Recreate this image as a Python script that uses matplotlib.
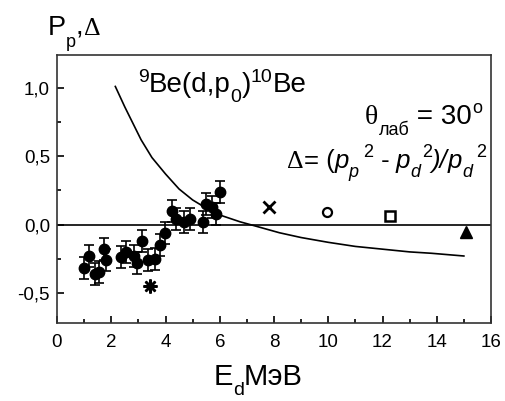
import matplotlib
matplotlib.use("Agg")
import matplotlib.pyplot as plt
from matplotlib.ticker import MultipleLocator, FuncFormatter

plt.rcParams['font.family'] = ['Liberation Sans', 'DejaVu Sans']

W, H = 506, 401
SANS = 'Liberation Sans'
SERIF = 'Liberation Serif'

# measured polarization points
ed = [1.0, 1.18, 1.40, 1.53, 1.73, 1.80, 2.35, 2.55, 2.84, 2.96, 3.12, 3.36,
      3.62, 3.80, 3.97, 4.24, 4.38, 4.69, 4.91, 5.39, 5.49, 5.71, 5.86, 6.01]
pp = [-0.32, -0.23, -0.36, -0.35, -0.18, -0.26, -0.24, -0.20, -0.23, -0.28, -0.12, -0.26,
      -0.25, -0.15, -0.06, 0.10, 0.04, 0.02, 0.04, 0.02, 0.15, 0.13, 0.08, 0.24]
pp_err = [0.08] * len(ed)

# other single points
star_x, star_y = [3.43], [-0.45]
cross_x, cross_y = [7.8], [0.13]
circ_x, circ_y = [9.95], [0.09]
sq_x, sq_y = [12.29], [0.065]
tri_x, tri_y = [15.09], [-0.056]

# Delta curve
curve_x = [2.15, 2.5, 2.8, 3.1, 3.5, 4.0, 4.5, 5.0, 5.5, 6.0, 6.75, 7.3, 8.2, 9.0,
           10.0, 11.0, 12.0, 13.0, 13.8, 15.0]
curve_y = [1.01, 0.86, 0.74, 0.62, 0.49, 0.37, 0.26, 0.18, 0.12, 0.07, 0.02, -0.01,
           -0.06, -0.095, -0.13, -0.16, -0.18, -0.20, -0.21, -0.23]


def rich_text(fig, x_px, y_px, parts, ha='left'):
    # parts: (text, size, rise_px, family, style, gap_px)
    r = fig.canvas.get_renderer()
    widths = []
    for s, size, rise, fam, style, gap in parts:
        t = fig.text(0, 0, s, fontsize=size, family=fam, style=style)
        widths.append(t.get_window_extent(r).width + gap)
        t.remove()
    total = sum(widths)
    x = x_px - {'left': 0, 'center': total / 2, 'right': total}[ha]
    for (s, size, rise, fam, style, gap), w in zip(parts, widths):
        fig.text((x + gap) / W, 1 - (y_px - rise) / H, s, fontsize=size, family=fam,
                 style=style, va='baseline', ha='left')
        x += w


fig = plt.figure(figsize=(W / 100, H / 100), dpi=100)
ax = fig.add_axes([57 / W, 1 - 323 / H, 434 / W, 268 / H])

ax.axhline(0, color='black', lw=1.2)
ax.plot(curve_x, curve_y, color='black', lw=1.2)
ax.errorbar(ed, pp, yerr=pp_err, fmt='o', color='black', ms=7.5, capsize=3.5,
            elinewidth=1.2, capthick=1.2)
ax.plot(star_x, star_y, marker=(8, 2, 0), color='black', ms=10, mew=1.8, ls='none')
ax.plot(cross_x, cross_y, marker='x', color='black', ms=8, mew=2, ls='none')
ax.plot(circ_x, circ_y, marker='o', mfc='white', mec='black', ms=6.5, mew=1.6, ls='none')
ax.plot(sq_x, sq_y, marker='s', mfc='white', mec='black', ms=7, mew=1.8, ls='none')
ax.plot(tri_x, tri_y, marker='^', color='black', ms=8.5, ls='none')

ax.set_xlim(0, 16)
ax.set_ylim(-0.72, 1.24)
ax.xaxis.set_major_locator(MultipleLocator(2))
ax.xaxis.set_minor_locator(MultipleLocator(1))
ax.yaxis.set_major_locator(MultipleLocator(0.5))
ax.yaxis.set_minor_locator(MultipleLocator(0.25))
ax.xaxis.set_major_formatter(FuncFormatter(lambda v, p: f"{v:.0f}"))
ax.yaxis.set_major_formatter(FuncFormatter(lambda v, p: f"{v:.1f}".replace('.', ',')))
ax.tick_params(which='both', direction='in', top=False, right=False, labelsize=13.5, width=1.2)
ax.tick_params(which='major', length=5)
ax.tick_params(which='minor', length=3)
ax.tick_params(axis='x', pad=8)
ax.tick_params(axis='y', pad=5)
for s in ax.spines.values():
    s.set_linewidth(1.2)
    s.set_color('#333333')

fig.canvas.draw()

# title of reaction
rich_text(fig, 138, 92, [
    ('9', 14, 10, SANS, 'normal', 0),
    ('Be(d,p', 20, 0, SANS, 'normal', 0),
    ('0', 14, -10, SANS, 'normal', 0),
    (')', 20, 0, SANS, 'normal', 0),
    ('10', 14, 10, SANS, 'normal', 0),
    ('Be', 20, 0, SANS, 'normal', 0),
])

# angle
rich_text(fig, 482, 124, [
    ('θ', 20, 0, SERIF, 'normal', 0),
    ('лаб', 13, -11, SANS, 'normal', 0),
    (' = 30', 20, 0, SANS, 'normal', 0),
    ('o', 13, 11, SANS, 'normal', 0),
], ha='right')

# Delta definition
rich_text(fig, 487, 168, [
    ('Δ', 18.5, 0, SERIF, 'normal', 0),
    ('= (', 18.5, 0, SANS, 'normal', 0),
    ('p', 18.5, 0, SANS, 'italic', 0),
    ('p', 13, -9, SANS, 'italic', 0),
    (' 2', 13, 11, SANS, 'normal', 0),
    (' -', 18.5, 0, SANS, 'normal', 0),
    (' p', 18.5, 0, SANS, 'italic', 0),
    ('d', 13, -9, SANS, 'italic', 0),
    ('2', 13, 11, SANS, 'normal', 1),
    (')/', 18.5, 0, SANS, 'italic', 0),
    ('p', 18.5, 0, SANS, 'italic', 0),
    ('d', 13, -9, SANS, 'italic', 0),
    (' 2', 13, 11, SANS, 'normal', 0),
], ha='right')

# y label
rich_text(fig, 48, 35, [
    ('P', 19.5, 0, SANS, 'normal', 0),
    ('p', 13, -12, SANS, 'normal', 0),
    (',', 19.5, 0, SANS, 'normal', 0),
    ('Δ', 18.5, 0, SERIF, 'normal', 0),
])

# x label
rich_text(fig, 258, 385, [
    ('E', 21, 0, SANS, 'normal', 0),
    ('d', 14, -10, SANS, 'normal', 0),
    ('МэВ', 21, 0, SANS, 'normal', 0),
], ha='center')

fig.savefig('out.png', dpi=100)
